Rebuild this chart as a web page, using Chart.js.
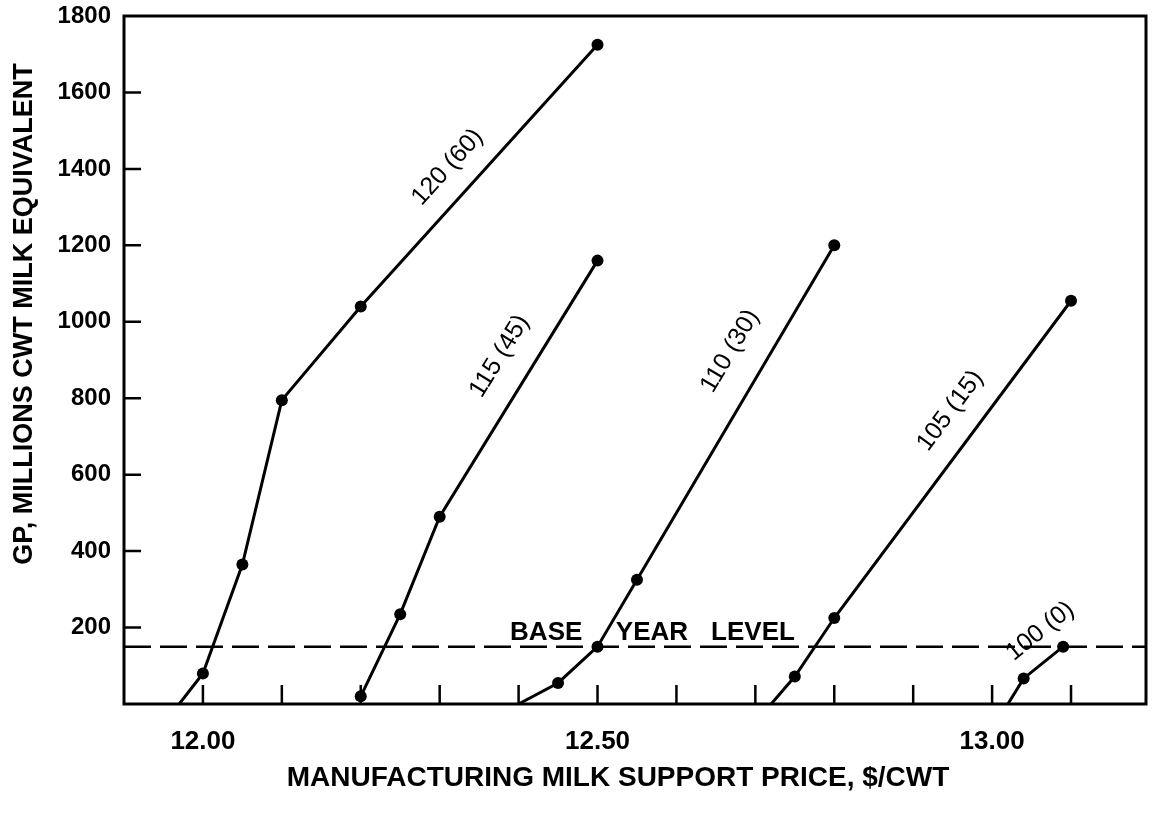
<!DOCTYPE html>
<html>
<head>
<meta charset="utf-8">
<title>GP vs support price</title>
<script src="https://cdn.jsdelivr.net/npm/chart.js@4.4.1/dist/chart.umd.min.js"></script>
<style>
  html, body { margin: 0; padding: 0; background: #fff; }
  #wrap { width: 1153px; height: 819px; position: relative; }
</style>
</head>
<body>
<div id="wrap"><canvas id="gpChart"></canvas></div>
<script>
// ===============================
// DATA
// ===============================
// price ($/cwt) and GP (million cwt) for each curve
const s120Price = [11.97, 12.00, 12.05, 12.10, 12.20, 12.50];
const s120Gp    = [0, 80, 365, 795, 1040, 1725];
const s115Price = [12.20, 12.25, 12.30, 12.50];
const s115Gp    = [20, 235, 490, 1160];
const s110Price = [12.40, 12.45, 12.50, 12.55, 12.80];
const s110Gp    = [0, 55, 150, 325, 1200];
const s105Price = [12.72, 12.75, 12.80, 13.10];
const s105Gp    = [0, 72, 225, 1055];
const s100Price = [13.02, 13.04, 13.09];
const s100Gp    = [0, 67, 150];

const curveNames = ['120 (60)', '115 (45)', '110 (30)', '105 (15)', '100 (0)'];
const nameAtPrice = [12.31, 12.376, 12.668, 12.947, 13.061];
const nameAtGp    = [1404, 910, 923, 767, 190];

const baseLevel = 150;
const baseWords = ['BASE', 'YEAR', 'LEVEL'];
const baseWordAt = [12.435, 12.569, 12.697];

const xTickLabels = ['12.00', '12.50', '13.00'];
const xTickValues = [12.0, 12.5, 13.0];
const xTickMarks = [12.0, 12.1, 12.2, 12.3, 12.4, 12.5, 12.6, 12.7, 12.8, 12.9, 13.0, 13.1];
const yTickMarks = [200, 400, 600, 800, 1000, 1200, 1400, 1600];

const X_MIN = 11.9, X_MAX = 13.195;
const FONT = '"Liberation Sans", Arial, Helvetica, sans-serif';

// ===============================
// HELPERS
// ===============================
const toPoints = (xs, ys) => xs.map((x, i) => ({ x: x, y: ys[i] }));

const curves = [
    toPoints(s120Price, s120Gp),
    toPoints(s115Price, s115Gp),
    toPoints(s110Price, s110Gp),
    toPoints(s105Price, s105Gp),
    toPoints(s100Price, s100Gp)
];

const curveDataset = (pts, name) => ({
    label: name,
    data: pts,
    showLine: true,
    borderColor: '#000',
    backgroundColor: '#000',
    borderWidth: 3,
    pointRadius: (ctx) => (ctx.raw && ctx.raw.y === 0 ? 0 : 6),
    pointBorderWidth: 0,
    tension: 0
});

// ===============================
// PLUGIN: frame, inner ticks, texts
// ===============================
const decor = {
    id: 'decor',
    afterDatasetsDraw(chart) {
        const { ctx, chartArea: a, scales: { x, y } } = chart;
        ctx.save();
        ctx.strokeStyle = '#000';
        ctx.fillStyle = '#000';

        // inner tick marks
        ctx.lineWidth = 2.5;
        ctx.beginPath();
        xTickMarks.forEach(v => {
            const px = x.getPixelForValue(v);
            ctx.moveTo(px, a.bottom);
            ctx.lineTo(px, a.bottom - 19);
        });
        yTickMarks.forEach(v => {
            const py = y.getPixelForValue(v);
            ctx.moveTo(a.left, py);
            ctx.lineTo(a.left + 17, py);
        });
        ctx.stroke();

        // frame
        ctx.lineWidth = 3;
        ctx.strokeRect(a.left, a.top, a.right - a.left, a.bottom - a.top);

        // curve names, rotated along last segment
        ctx.font = '25px ' + FONT;
        ctx.textAlign = 'center';
        ctx.textBaseline = 'middle';
        curves.forEach((pts, i) => {
            const p1 = pts[pts.length - 2], p2 = pts[pts.length - 1];
            const dx = x.getPixelForValue(p2.x) - x.getPixelForValue(p1.x);
            const dy = y.getPixelForValue(p2.y) - y.getPixelForValue(p1.y);
            ctx.save();
            ctx.translate(x.getPixelForValue(nameAtPrice[i]), y.getPixelForValue(nameAtGp[i]));
            ctx.rotate(Math.atan2(dy, dx));
            ctx.fillText(curveNames[i], 0, 0);
            ctx.restore();
        });

        // base year words
        ctx.font = 'bold 26px ' + FONT;
        ctx.textBaseline = 'alphabetic';
        baseWords.forEach((w, i) => {
            ctx.fillText(w, x.getPixelForValue(baseWordAt[i]), y.getPixelForValue(baseLevel + 18));
        });

        // axis titles
        ctx.font = 'bold 28px ' + FONT;
        ctx.textBaseline = 'middle';
        ctx.fillText('MANUFACTURING MILK SUPPORT PRICE, $/CWT', 618, 778);
        ctx.font = 'bold 27px ' + FONT;
        ctx.save();
        ctx.translate(25, 314);
        ctx.rotate(-Math.PI / 2);
        ctx.fillText('GP, MILLIONS CWT MILK EQUIVALENT', 0, 0);
        ctx.restore();

        ctx.restore();
    }
};

// ===============================
// INIT
// ===============================
function initChart() {
    const ctx = document.getElementById('gpChart').getContext('2d');
    const datasets = curves.map((pts, i) => curveDataset(pts, curveNames[i]));
    datasets.push({
        label: 'Base year level',
        data: [{ x: X_MIN, y: baseLevel }, { x: X_MAX, y: baseLevel }],
        showLine: true,
        borderColor: '#000',
        borderWidth: 2.5,
        borderDash: [27, 9],
        pointRadius: 0
    });

    new Chart(ctx, {
        type: 'scatter',
        data: { datasets: datasets },
        options: {
            responsive: true,
            maintainAspectRatio: false,
            animation: false,
            layout: { padding: { left: 0, right: 7, top: 16, bottom: 0 } },
            plugins: { legend: { display: false }, tooltip: { enabled: false } },
            scales: {
                x: {
                    type: 'linear',
                    min: X_MIN,
                    max: X_MAX,
                    grid: { display: false, drawTicks: false },
                    border: { display: false },
                    afterBuildTicks: (s) => { s.ticks = xTickValues.map(v => ({ value: v })); },
                    afterFit: (s) => { s.height = 115; s.paddingLeft = 0; s.paddingRight = 0; },
                    ticks: {
                        autoSkip: false,
                        maxRotation: 0,
                        padding: 22,
                        color: '#000',
                        font: { family: FONT, size: 26, weight: 'bold' },
                        callback: (v) => {
                            const i = xTickValues.findIndex(t => Math.abs(t - v) < 1e-6);
                            return i >= 0 ? xTickLabels[i] : '';
                        }
                    }
                },
                y: {
                    min: 0,
                    max: 1800,
                    grid: { display: false, drawTicks: false },
                    border: { display: false },
                    afterFit: (s) => { s.width = 124; s.paddingTop = 0; s.paddingBottom = 0; },
                    ticks: {
                        stepSize: 200,
                        padding: 13,
                        color: '#000',
                        font: { family: FONT, size: 24, weight: 'bold' },
                        callback: (v) => (v === 0 ? '' : String(v))
                    }
                }
            }
        },
        plugins: [decor]
    });
}

initChart();
</script>
</body>
</html>
